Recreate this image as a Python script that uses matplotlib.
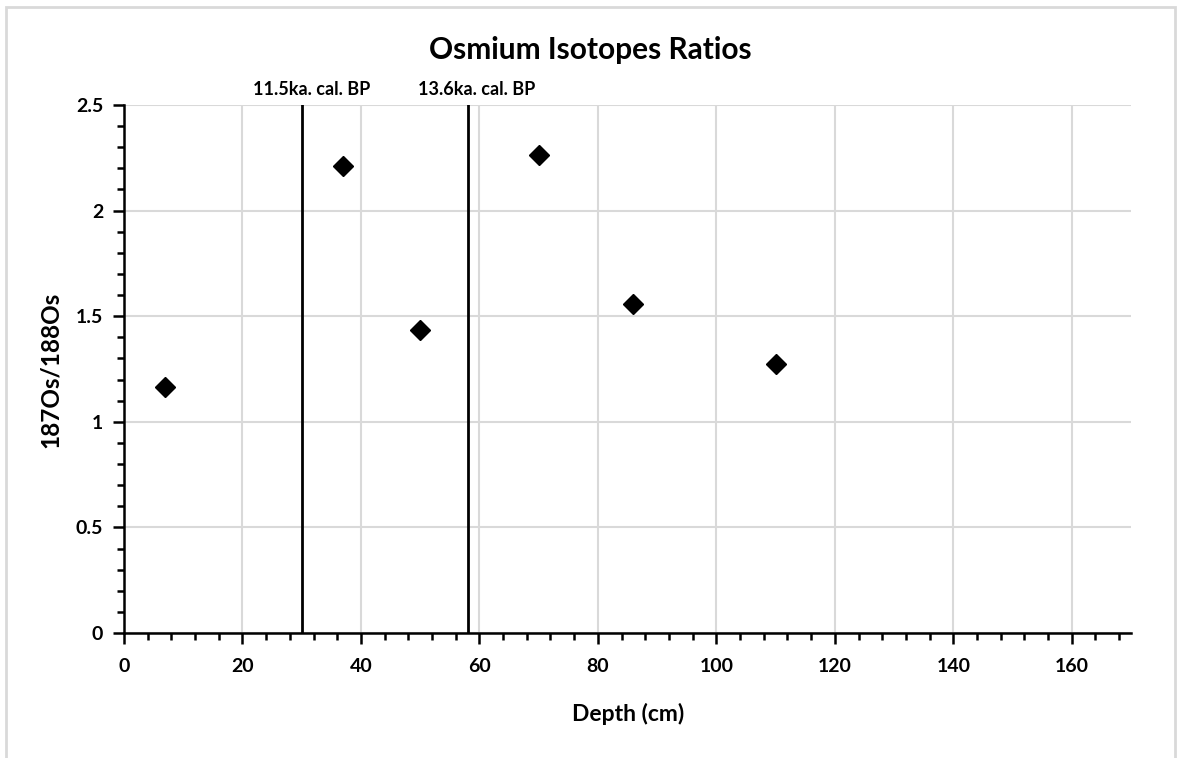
import matplotlib
matplotlib.use("Agg")
import matplotlib.pyplot as plt
from matplotlib.patches import Rectangle
from matplotlib.ticker import MultipleLocator

# Data
depth = [7, 37, 50, 70, 86, 110]
ratio = [1.165, 2.21, 1.435, 2.263, 1.557, 1.275]
event_depths = [30, 58]
event_labels = ["11.5ka. cal. BP", "13.6ka. cal. BP"]
x_ticks = [0, 20, 40, 60, 80, 100, 120, 140, 160]
y_ticks = [0, 0.5, 1, 1.5, 2, 2.5]
y_ticklabels = ["0", "0.5", "1", "1.5", "2", "2.5"]

plt.rcParams['font.family'] = ['Lato', 'DejaVu Sans']

W, H = 1180, 758
fig = plt.figure(figsize=(W / 100, H / 100), dpi=100)

# outer grey frame
fig.patches.append(Rectangle((6 / W, -0.05), (1175 - 6) / W, 1.05 - 7 / H,
                             transform=fig.transFigure, fill=False,
                             edgecolor='#d9d9d9', linewidth=2))

left, right, top, bottom = 124, 1131, 105, 633
ax = fig.add_axes([left / W, 1 - bottom / H, (right - left) / W, (bottom - top) / H])

ax.set_xlim(0, 170)
ax.set_ylim(0, 2.5)

ax.set_xticks(x_ticks)
ax.set_yticks(y_ticks)
ax.set_yticklabels(y_ticklabels)
ax.xaxis.set_minor_locator(MultipleLocator(4))
ax.yaxis.set_minor_locator(MultipleLocator(0.1))

ax.grid(True, which='major', color='#d9d9d9', linewidth=1.5, zorder=0)
ax.set_axisbelow(True)

for s in ['top', 'right']:
    ax.spines[s].set_visible(False)
for s in ['left', 'bottom']:
    ax.spines[s].set_linewidth(1.8)
    ax.spines[s].set_color('black')

ax.tick_params(axis='both', which='major', direction='out', length=8, width=1.8,
               labelsize=14)
ax.tick_params(axis='x', which='major', pad=10)
ax.tick_params(axis='y', which='major', pad=7)
ax.tick_params(axis='both', which='minor', direction='out', length=5, width=1.8)
for lbl in ax.get_xticklabels() + ax.get_yticklabels():
    lbl.set_fontweight('bold')

for d, lab in zip(event_depths, event_labels):
    ax.plot([d, d], [0, 2.5], color='black', linewidth=2, zorder=3)
    ax.text(d + 1.6, 2.535, lab, ha='center', va='bottom', fontsize=13,
            fontweight='bold')

ax.plot(depth, ratio, linestyle='none', marker='D', markersize=10,
        color='black', zorder=4)

ax.set_xlabel("Depth (cm)", fontsize=16.5, fontweight='bold')
ax.set_ylabel("187Os/188Os", fontsize=17.5, fontweight='bold')
ax.xaxis.set_label_coords((628 - left) / (right - left), -(714 - bottom) / (bottom - top))
ax.yaxis.set_label_coords(-(left - 50) / (right - left), (bottom - 370) / (bottom - top))
ax.xaxis.label.set_va('center')
ax.yaxis.label.set_va('center')

fig.text(590 / W, 1 - 50 / H, "Osmium Isotopes Ratios", ha='center', va='center',
         fontsize=21.5, fontweight='bold')

fig.savefig("out.png", dpi=100, facecolor='white')
